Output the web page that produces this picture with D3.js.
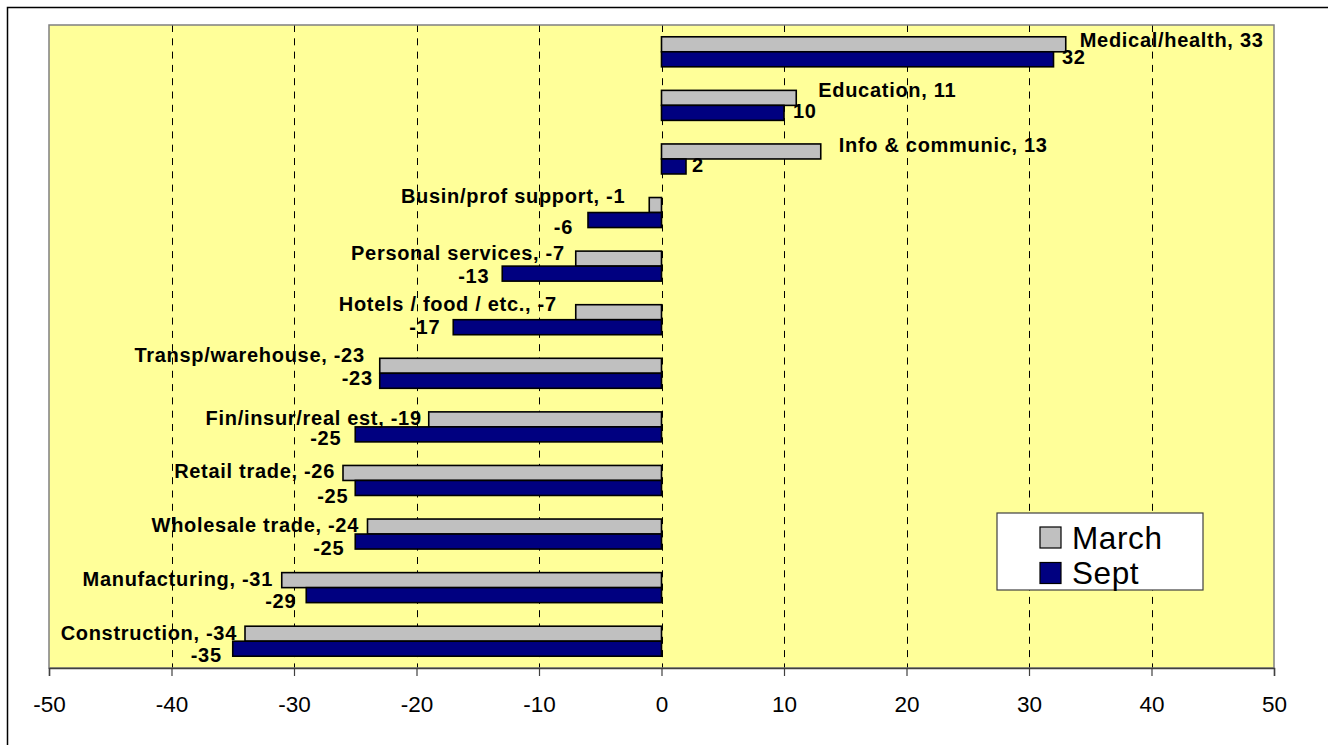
<!DOCTYPE html>
<html>
<head>
<meta charset="utf-8">
<script src="https://cdn.jsdelivr.net/npm/d3@7/dist/d3.min.js"></script>
<style>
  html, body { margin: 0; padding: 0; background: #ffffff; }
  svg { display: block; }
  text { font-family: Arial, "Liberation Sans", sans-serif; }
</style>
</head>
<body>
<svg id="chart" width="1328" height="745"></svg>
<script>
// Employment change by industry, March vs September
const categories = [
  "Medical/health", "Education", "Info & communic", "Busin/prof support",
  "Personal services", "Hotels / food / etc.", "Transp/warehouse",
  "Fin/insur/real est", "Retail trade", "Wholesale trade",
  "Manufacturing", "Construction"
];
const march = [33, 11, 13, -1, -7, -7, -23, -19, -26, -24, -31, -34];
const sept  = [32, 10, 2, -6, -13, -17, -23, -25, -25, -25, -29, -35];
const seriesNames = ["March", "Sept"];
const xTicks = [-50, -40, -30, -20, -10, 0, 10, 20, 30, 40, 50];

// Hand-placed data label offsets: [gap beyond bar end, baseline shift from bar centre]
const marchLabelNudge = [[14, 2.4], [22, -1.2], [18, 0.5], [24, -2.2], [11, 1.2], [19, -1.4],
                         [15, -3.3], [7, 5.5], [8, 4.6], [8.5, 5.3], [8.75, 5.4], [8, 6.1]];
const septLabelNudge  = [[8.5, 4.7], [9, 5], [6, 5.5], [15, 13.8], [13, 9.2], [13, 6.6],
                         [7, 4], [14, 10.5], [7, 15], [11, 13.3], [10, 12.7], [11, 12.8]];

const colors = { March: "#c0c0c0", Sept: "#000080" };
const plot = { left: 49, right: 1274, top: 25, bottom: 668 };

const svg = d3.select("#chart");

// outer frame
svg.append("rect")
  .attr("x", 7.5).attr("y", 7.5)
  .attr("width", 1340).attr("height", 800)
  .attr("fill", "#ffffff").attr("stroke", "#000").attr("stroke-width", 1.5);

const x = d3.scaleLinear().domain([-50, 50]).range([plot.left, plot.right]);
const y = d3.scaleBand().domain(categories)
  .range([plot.top, plot.bottom]).paddingInner(0.44).paddingOuter(0.22);
const ySub = d3.scaleBand().domain(seriesNames).range([0, y.bandwidth()]);

// plot background
svg.append("rect")
  .attr("x", plot.left).attr("y", plot.top)
  .attr("width", plot.right - plot.left).attr("height", plot.bottom - plot.top)
  .attr("fill", "#ffff99");

// dashed vertical gridlines
svg.append("g").selectAll("line")
  .data(xTicks.filter(t => t > -50 && t < 50))
  .join("line")
  .attr("x1", d => Math.round(x(d)) + 0.5).attr("x2", d => Math.round(x(d)) + 0.5)
  .attr("y1", plot.top).attr("y2", plot.bottom)
  .attr("stroke", "#000").attr("stroke-width", 1)
  .attr("stroke-dasharray", "7,6.3");

// bars
const rows = categories.map((c, i) => ({ c, i, March: march[i], Sept: sept[i] }));
const gRows = svg.append("g").selectAll("g")
  .data(rows).join("g")
  .attr("transform", d => `translate(0,${y(d.c)})`);

gRows.selectAll("rect")
  .data(d => seriesNames.map(s => ({ s, v: d[s] })))
  .join("rect")
  .attr("x", d => x(Math.min(0, d.v)))
  .attr("width", d => Math.abs(x(d.v) - x(0)))
  .attr("y", d => ySub(d.s))
  .attr("height", ySub.bandwidth())
  .attr("fill", d => colors[d.s])
  .attr("stroke", "#000").attr("stroke-width", 1.6);

// plot border
svg.append("rect")
  .attr("x", plot.left).attr("y", plot.top)
  .attr("width", plot.right - plot.left).attr("height", plot.bottom - plot.top)
  .attr("fill", "none").attr("stroke", "#808080").attr("stroke-width", 1.5);

// bottom axis
const axis = svg.append("g")
  .attr("transform", `translate(0,${plot.bottom})`)
  .call(d3.axisBottom(x).tickValues(xTicks).tickSize(8).tickPadding(20).tickFormat(d3.format("d")));
axis.select(".domain").attr("stroke", "#404040").attr("stroke-width", 1.5);
axis.selectAll(".tick line").attr("stroke", "#404040").attr("stroke-width", 1.2);
axis.selectAll(".tick text")
  .attr("font-size", 22.5).attr("fill", "#000")
  .style("font-family", "Arial, 'Liberation Sans', sans-serif")
  .text(d => d < 0 ? "-" + Math.abs(d) : d);

// data labels
const labelLayer = svg.append("g")
  .attr("font-size", 20).attr("font-weight", "bold").attr("fill", "#000")
  .style("letter-spacing", "0.7px");

rows.forEach((r, i) => {
  const mCenter = y(r.c) + ySub("March") + ySub.bandwidth() / 2;
  const sCenter = y(r.c) + ySub("Sept") + ySub.bandwidth() / 2;
  const mSign = r.March >= 0 ? 1 : -1;
  const sSign = r.Sept >= 0 ? 1 : -1;

  labelLayer.append("text")
    .attr("x", x(r.March) + mSign * marchLabelNudge[i][0])
    .attr("y", mCenter + marchLabelNudge[i][1])
    .attr("text-anchor", mSign > 0 ? "start" : "end")
    .text(`${r.c}, ${r.March}`);

  labelLayer.append("text")
    .attr("x", x(r.Sept) + sSign * septLabelNudge[i][0])
    .attr("y", sCenter + septLabelNudge[i][1])
    .attr("text-anchor", sSign > 0 ? "start" : "end")
    .text(r.Sept);
});

// legend
const legend = svg.append("g").attr("transform", "translate(997,513)");
legend.append("rect")
  .attr("width", 206).attr("height", 77)
  .attr("fill", "#ffffff").attr("stroke", "#404040").attr("stroke-width", 1.2);
const items = legend.selectAll("g.item").data(seriesNames).join("g")
  .attr("class", "item")
  .attr("transform", (d, i) => `translate(43,${14 + i * 35.5})`);
items.append("rect")
  .attr("width", 21).attr("height", 21)
  .attr("fill", d => colors[d]).attr("stroke", "#000").attr("stroke-width", 1.2);
items.append("text")
  .attr("x", 32).attr("y", 21.5)
  .attr("font-size", 31.5).attr("fill", "#000")
  .style("letter-spacing", "0.6px")
  .text(d => d);
</script>
</body>
</html>
